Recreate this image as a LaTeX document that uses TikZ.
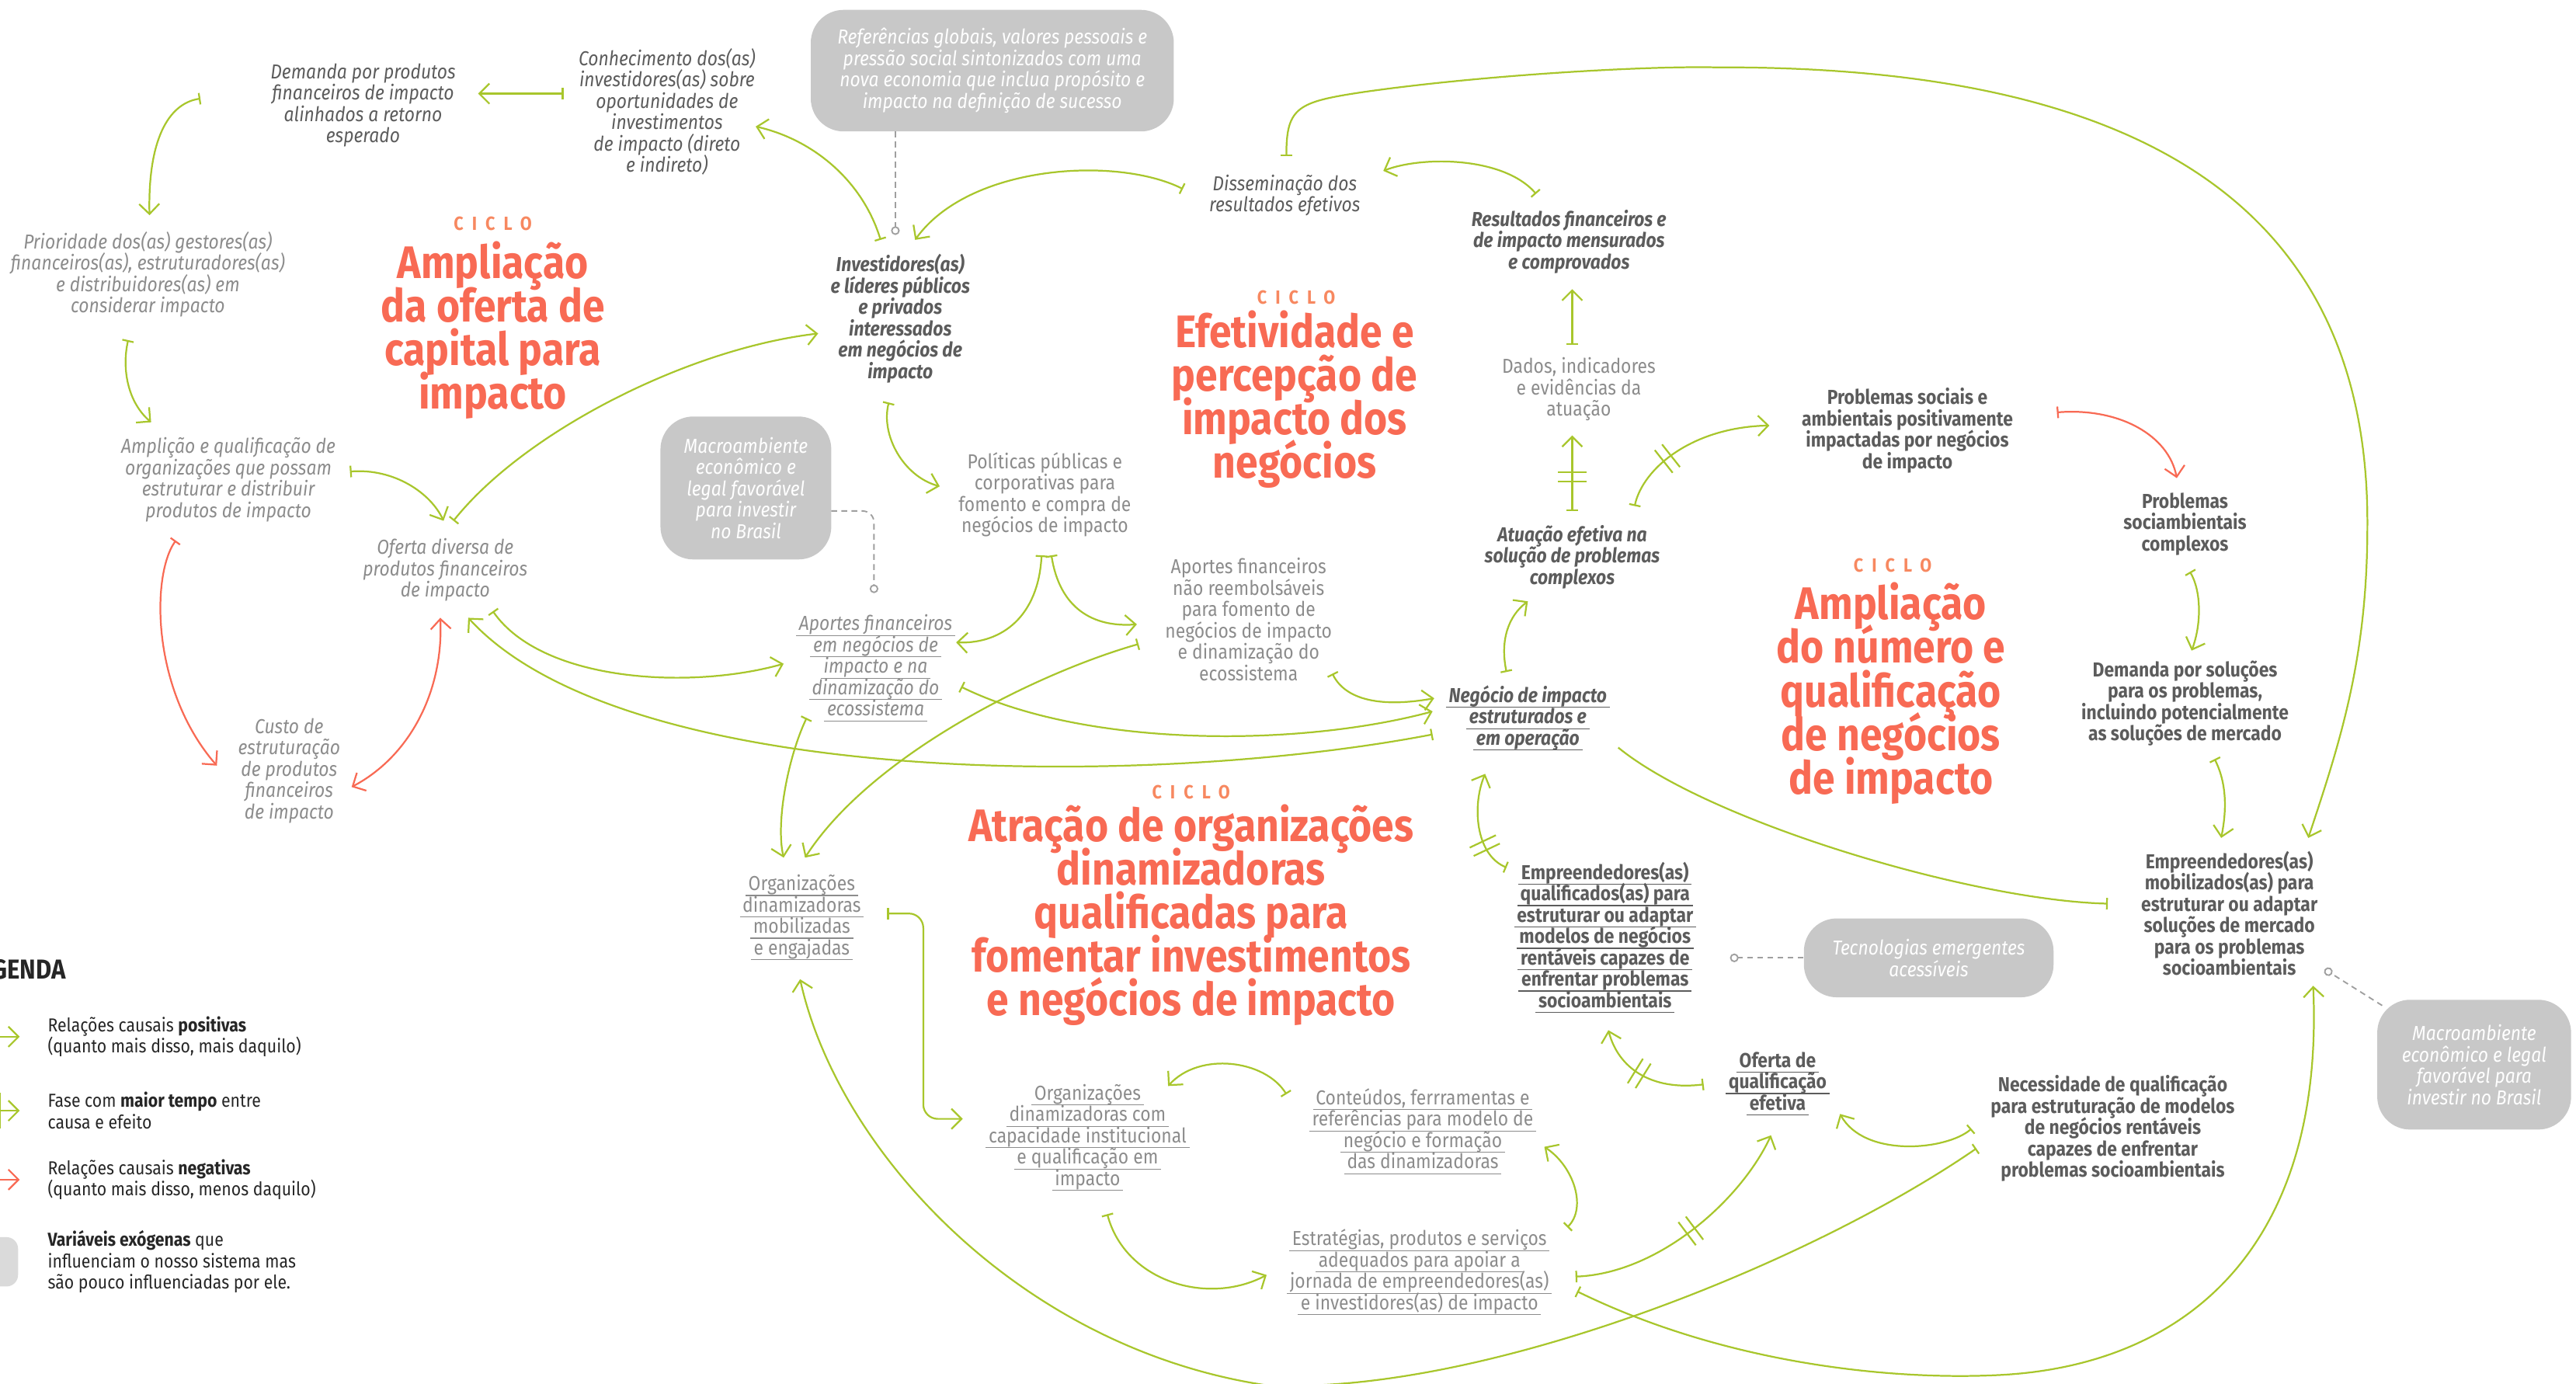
\documentclass[tikz,border=0pt]{standalone}
\usepackage{fontspec}
\setmainfont{Fira Sans}[FakeStretch=0.88]
\usetikzlibrary{arrows.meta}
\usetikzlibrary{calc}
\usetikzlibrary{decorations.markings}

\definecolor{lgreen}{RGB}{168,198,44}
\definecolor{lcoral}{RGB}{248,106,84}
\definecolor{lorange}{RGB}{247,136,96}
\definecolor{txtdark}{RGB}{92,92,92}
\definecolor{txtlight}{RGB}{140,140,140}
\definecolor{exofill}{RGB}{200,200,200}
\definecolor{legfill}{RGB}{218,218,218}

% underline that keeps the line spacing
\newcommand{\undl}[1]{\leavevmode\setbox0\hbox{#1}\rlap{\hskip-1pt\raisebox{-1.9pt}[0pt][0pt]{\rule{\dimexpr\wd0+2pt\relax}{0.35pt}}}\box0}
\newcommand{\tightlines}{\lineskiplimit=-20pt\lineskip=0pt}

\tikzset{Hd/.tip={Straight Barb[length=3.5pt,width=7pt]},
    Tl/.tip={Bar[width=4pt]}}

\begin{document}
\begin{tikzpicture}[x=0.02cm, y=-0.02cm,
    basevar/.style={align=center, inner sep=1pt},
    ivar/.style={basevar, text=txtdark, font=\fontsize{7}{7.4}\selectfont\tightlines\itshape},
    bivar/.style={basevar, text=txtdark, font=\fontsize{7}{7.4}\selectfont\tightlines\bfseries\itshape},
    bvar/.style={basevar, text=txtdark, font=\fontsize{7}{7.4}\selectfont\tightlines\bfseries},
    lvar/.style={basevar, text=txtlight, font=\fontsize{7}{7.4}\selectfont\tightlines},
    livar/.style={basevar, text=txtlight, font=\fontsize{7}{7.4}\selectfont\tightlines\itshape},
    exo/.style={basevar, fill=exofill, rounded corners=0.4cm, text=white, font=\fontsize{7}{7.4}\selectfont\tightlines\itshape},
    ciclo/.style={text=lorange, font=\fontsize{6.6}{7}\selectfont\bfseries\addfontfeature{LetterSpace=45}},
    titl/.style={align=center, text=lcoral, font=\fontsize{15.8}{15.1}\selectfont\tightlines\bfseries},
    legtxt/.style={align=left, inner sep=1pt, text=black!85, font=\fontsize{6.5}{7.4}\selectfont\tightlines},
    plink/.style={draw=lgreen, line width=0.6pt, Tl-Hd},
    tlink/.style={draw=lgreen, line width=0.6pt, Tl-},
    nlink/.style={draw=lcoral, line width=0.6pt, Tl-Hd},
    nboth/.style={draw=lcoral, line width=0.6pt, Hd-Hd},
    exlink/.style={draw=gray!75, line width=0.5pt, dash pattern=on 2pt off 1.5pt, -{Circle[open,length=3pt,width=3pt]}},
    delay/.style={postaction={decorate, decoration={markings, mark=at position #1 with
        {\draw[lgreen, line width=0.6pt, -, solid] (-1.6pt,-5pt) -- (-1.6pt,5pt) (1.6pt,-5pt) -- (1.6pt,5pt);}}}}
    ]

    \useasboundingbox (0,0) rectangle (1568,842);
    \clip (0,0) rectangle (1568,842);

    % ciclo 1
    \node[ivar] (demanda) at (221,64) {Demanda por produtos\\financeiros de impacto\\alinhados a retorno\\esperado};
    \node[ivar] (conhec) at (406,68) {Conhecimento dos(as)\\investidores(as) sobre\\oportunidades de\\investimentos\\de impacto (direto\\e indireto)};
    \node[exo, minimum width=4.42cm, minimum height=1.48cm] (refs) at (604,43) {Referências globais, valores pessoais e\\pressão social sintonizados com uma\\nova economia que inclua propósito e\\impacto na definição de sucesso};
    \node[livar] (priori) at (90,167) {Prioridade dos(as) gestores(as)\\financeiros(as), estruturadores(as)\\e distribuidores(as) em\\considerar impacto};
    \node[ciclo] (cicA) at (300,136) {CICLO};
    \node[titl] (titA) at (300,201) {Ampliação\\da oferta de\\capital para\\impacto};
    \node[bivar] (invest) at (548,194) {Investidores(as)\\e líderes públicos\\e privados\\interessados\\em negócios de\\impacto};
    \node[livar] (amplic) at (139,292) {Amplição e qualificação de\\organizações que possam\\estruturar e distribuir\\produtos de impacto};
    \node[livar] (ofdiv) at (271,347) {Oferta diversa de\\produtos financeiros\\de impacto};
    \node[livar] (custo) at (176,469) {Custo de\\estruturação\\de produtos\\financeiros\\de impacto};
    \node[exo, minimum width=2.08cm, minimum height=1.74cm] (macroA) at (454,297) {Macroambiente\\econômico e\\legal favorável\\para investir\\no Brasil};
    \node[lvar] (polit) at (636,301) {Políticas públicas e\\corporativas para\\fomento e compra de\\negócios de impacto};
    \node[livar] (apneg) at (533,405) {\undl{Aportes financeiros}\\\undl{em negócios de}\\\undl{impacto e na}\\\undl{dinamização do}\\\undl{ecossistema}};

    % ciclo 2
    \node[ivar] (dissem) at (782,119) {Disseminação dos\\resultados efetivos};
    \node[bivar] (result) at (955,147) {Resultados financeiros e\\de impacto mensurados\\e comprovados};
    \node[ciclo] (cicB) at (789,181) {CICLO};
    \node[titl] (titB) at (788,243) {Efetividade e\\percepção de\\impacto dos\\negócios};
    \node[lvar] (dados) at (961,237) {Dados, indicadores\\e evidências da\\atuação};
    \node[bivar] (atuac) at (957,339) {Atuação efetiva na\\solução de problemas\\complexos};
    \node[lvar] (apnr) at (760,377) {Aportes financeiros\\não reembolsáveis\\para fomento de\\negócios de impacto\\e dinamização do\\ecossistema};
    \node[bivar] (negoc) at (930,437) {\undl{Negócio de impacto}\\\undl{estruturados e}\\\undl{em operação}};

    % ciclo 3
    \node[bvar] (probsoc) at (1161,262) {Problemas sociais e\\ambientais positivamente\\impactadas por negócios\\de impacto};
    \node[bvar] (probcx) at (1330,319) {Problemas\\sociambientais\\complexos};
    \node[ciclo] (cicC) at (1152,344) {CICLO};
    \node[titl] (titC) at (1151,422) {Ampliação\\do número e\\qualificação\\de negócios\\de impacto};
    \node[bvar] (demsol) at (1330,428) {Demanda por soluções\\para os problemas,\\incluindo potencialmente\\as soluções de mercado};
    \node[bvar] (empmob) at (1357,556) {Empreendedores(as)\\mobilizados(as) para\\estruturar ou adaptar\\soluções de mercado\\para os problemas\\socioambientais};
    \node[exo, minimum width=2.36cm, minimum height=1.58cm] (macroB) at (1506,648) {Macroambiente\\econômico e legal\\favorável para\\investir no Brasil};
    \node[bvar] (empqual) at (977,569) {\undl{Empreendedores(as)}\\\undl{qualificados(as) para}\\\undl{estruturar ou adaptar}\\\undl{modelos de negócios}\\\undl{rentáveis capazes de}\\\undl{enfrentar problemas}\\\undl{socioambientais}};
    \node[exo, minimum width=3.04cm, minimum height=0.96cm] (tecno) at (1174,583) {Tecnologias emergentes\\acessíveis};
    \node[bvar] (ofqual) at (1082,658) {\undl{Oferta de}\\\undl{qualificação}\\\undl{efetiva}};
    \node[bvar] (necess) at (1286,687) {Necessidade de qualificação\\para estruturação de modelos\\de negócios rentáveis\\capazes de enfrentar\\problemas socioambientais};

    % ciclo 4
    \node[ciclo] (cicD) at (725,482) {CICLO};
    \node[titl] (titD) at (725,557) {Atração de organizações\\dinamizadoras\\qualificadas para\\fomentar investimentos\\e negócios de impacto};
    \node[lvar] (orgmob) at (488,558) {\undl{Organizações}\\\undl{dinamizadoras}\\\undl{mobilizadas}\\\undl{e engajadas}};
    \node[lvar] (orgcap) at (662,692) {\undl{Organizações}\\\undl{dinamizadoras com}\\\undl{capacidade institucional}\\\undl{e qualificação em}\\\undl{impacto}};
    \node[lvar] (conteu) at (866,687) {\undl{Conteúdos, ferrramentas e}\\\undl{referências para modelo de}\\\undl{negócio e formação}\\\undl{das dinamizadoras}};
    \node[lvar] (estrat) at (864,774) {\undl{Estratégias, produtos e serviços}\\\undl{adequados para apoiar a}\\\undl{jornada de empreendedores(as)}\\\undl{e investidores(as) de impacto}};

    % links
    \draw[plink] ($(conhec)+(-63,-11)$) -- ($(demanda)+(70,-7)$);
    \draw[plink] ($(demanda)+(-99,-4)$) .. controls (102,63) and (90,86) .. ($(priori)+(1,-36)$);
    \draw[plink] ($(priori)+(-12,40)$) .. controls (74,225) and (78,245) .. ($(amplic)+(-47,-35)$);
    \draw[plink] ($(amplic)+(74,-5)$) .. controls (240,285) and (262,300) .. ($(ofdiv)+(-1,-30)$);
    \draw[plink] ($(ofdiv)+(5,-30)$) .. controls (320,262) and (420,212) .. ($(invest)+(-50,9)$);
    \draw[plink] ($(invest)+(-12,-48)$) .. controls (525,110) and (495,85) .. ($(conhec)+(54,9)$);
    \draw[plink] ($(dissem)+(-62,-4)$) .. controls (680,95) and (590,100) .. ($(invest)+(9,-48)$);
    \draw[exlink] ($(refs)+(-59,37)$) -- ($(invest)+(-3,-51)$);
    \draw[plink] ($(result)+(-20,-29)$) .. controls (915,95) and (865,95) .. ($(dissem)+(60,-15)$);
    \draw[plink] ($(dissem)+(1,-24)$) .. controls (783,65) and (790,62) .. (830,56)
        .. controls (900,46) and (1000,40) .. (1045,41)
        .. controls (1310,40) and (1442,130) .. (1441,320)
        .. controls (1441,400) and (1425,450) .. ($(empmob)+(48,-46)$);
    \draw[plink] ($(dados)+(-4,-27)$) -- ($(result)+(2,29)$);
    \draw[plink, delay=0.45] ($(atuac)+(0,-28)$) -- ($(dados)+(-4,28)$);
    \draw[plink, delay=0.35] ($(atuac)+(38,-31)$) .. controls (1000,285) and (1030,260) .. ($(probsoc)+(-84,-3)$);
    \draw[nlink] ($(probsoc)+(91,-11)$) .. controls (1290,248) and (1320,265) .. ($(probcx)+(-5,-28)$);
    \draw[plink] ($(probcx)+(3,29)$) .. controls (1340,360) and (1340,380) .. ($(demsol)+(4,-32)$);
    \draw[plink] ($(demsol)+(18,34)$) .. controls (1356,478) and (1355,495) .. ($(empmob)+(-5,-46)$);
    \draw[plink] ($(negoc)+(-13,-28)$) .. controls (913,390) and (918,375) .. ($(atuac)+(-27,27)$);
    \draw[tlink] ($(empmob)+(-74,-6)$) .. controls (1200,548) and (1040,500) .. ($(negoc)+(55,18)$);
    \draw[plink] ($(apnr)+(51,33)$) .. controls (820,428) and (845,430) .. ($(negoc)+(-57,-12)$);
    \draw[plink] ($(apneg)+(52,13)$) .. controls (660,455) and (790,455) .. ($(negoc)+(-58,-4)$);
    \draw[plink] ($(negoc)+(-58,10)$) .. controls (700,480) and (380,480) .. ($(ofdiv)+(14,29)$);
    \draw[plink] ($(ofdiv)+(29,25)$) .. controls (330,415) and (420,420) .. ($(apneg)+(-56,-1)$);
    \draw[plink] ($(polit)+(-2,37)$) .. controls (632,375) and (610,392) .. ($(apneg)+(49,-14)$);
    \draw[plink] ($(polit)+(4,37)$) .. controls (645,370) and (665,382) .. ($(apnr)+(-68,3)$);
    \draw[plink] ($(invest)+(-7,51)$) .. controls (536,265) and (550,290) .. ($(polit)+(-64,-5)$);
    \draw[exlink, rounded corners=4pt] ($(macroA)+(52,14)$) -| ($(apneg)+(-1,-44)$);
    \draw[plink] ($(apnr)+(-67,15)$) .. controls (630,410) and (530,460) .. ($(orgmob)+(2,-36)$);
    \draw[plink] ($(apneg)+(-42,32)$) .. controls (480,460) and (472,500) .. ($(orgmob)+(-11,-36)$);
    \draw[plink, rounded corners=5pt] ($(orgmob)+(52,-2)$) -| ($(orgcap)+(-100,-11)$) -- ($(orgcap)+(-76,-11)$);
    \draw[plink] ($(conteu)+(-83,-21)$) .. controls (770,645) and (730,640) .. ($(orgcap)+(49,-31)$);
    \draw[plink] ($(orgcap)+(12,47)$) .. controls (685,780) and (735,795) .. ($(estrat)+(-93,2)$);
    \draw[plink] ($(estrat)+(90,-27)$) .. controls (966,735) and (958,710) .. ($(conteu)+(74,11)$);
    \draw[plink, delay=0.5] ($(estrat)+(95,3)$) .. controls (1010,775) and (1060,730) .. ($(ofqual)+(-4,33)$);
    \draw[plink, delay=0.55] ($(ofqual)+(-45,2)$) .. controls (1005,664) and (985,650) .. ($(empqual)+(2,58)$);
    \draw[plink, delay=0.3] ($(empqual)+(-60,-41)$) .. controls (898,520) and (896,490) .. ($(negoc)+(-26,34)$);
    \draw[plink] ($(necess)+(-86,0)$) .. controls (1185,700) and (1135,705) .. ($(ofqual)+(38,20)$);
    \draw[plink] ($(necess)+(-83,12)$) .. controls (1100,770) and (900,850) .. (770,843)
        .. controls (620,820) and (510,700) .. ($(orgmob)+(-1,38)$);
    \draw[plink] ($(estrat)+(96,12)$) .. controls (1050,830) and (1150,840) .. (1215,837)
        .. controls (1330,832) and (1415,760) .. ($(empmob)+(51,44)$);
    \draw[exlink] (tecno.west) -- ($(empqual)+(76,14)$);
    \draw[exlink] ($(macroB)+(-56,-36)$) -- ($(empmob)+(58,34)$);
    \draw[nlink] ($(amplic)+(-32,37)$) .. controls (92,350) and (92,420) .. ($(custo)+(-44,-3)$);
    \draw[nboth] ($(custo)+(38,10)$) .. controls (250,460) and (270,420) .. ($(ofdiv)+(-3,29)$);

    % legenda
    \node[legtxt, anchor=east, font=\fontsize{9.5}{10}\selectfont\bfseries] (legenda) at (42,590) {LEGENDA};
    \node[legtxt, anchor=west] (leg1) at (27,631) {Relações causais \textbf{positivas}\\(quanto mais disso, mais daquilo)};
    \node[legtxt, anchor=west] (leg2) at (27,676) {Fase com \textbf{maior tempo} entre\\causa e efeito};
    \node[legtxt, anchor=west] (leg3) at (27,718) {Relações causais \textbf{negativas}\\(quanto mais disso, menos daquilo)};
    \node[legtxt, anchor=west] (leg4) at (27,768) {\textbf{Variáveis exógenas} que\\influenciam o nosso sistema mas\\são pouco influenciadas por ele.};
    \draw[plink, -Hd] ($(leg1.west)+(-60,0)$) -- ($(leg1.west)+(-15,0)$);
    \draw[plink, -Hd] ($(leg2.west)+(-60,0)$) -- ($(leg2.west)+(-15,0)$);
    \draw[lgreen, line width=0.6pt] ($(leg2.west)+(-27,-11)$) -- ++(0,22) ($(leg2.west)+(-32,-11)$) -- ++(0,22);
    \draw[nlink, -Hd] ($(leg3.west)+(-60,0)$) -- ($(leg3.west)+(-15,0)$);
    \fill[legfill, rounded corners=4pt] ($(leg4.west)+(-60,-15)$) rectangle ($(leg4.west)+(-16,15)$);

\end{tikzpicture}
\end{document}
